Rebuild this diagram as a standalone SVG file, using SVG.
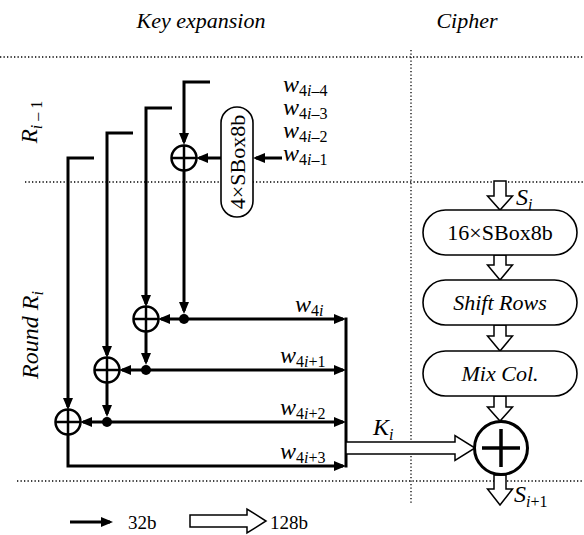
<svg xmlns="http://www.w3.org/2000/svg" width="584" height="535" viewBox="0 0 584 535">
<defs>
<marker id="ah" markerUnits="userSpaceOnUse" markerWidth="12" markerHeight="10" refX="9" refY="5" orient="auto"><path d="M0,0 L12,5 L0,10 z" fill="#000"/></marker>
</defs>
<style>
.ln{fill:none;stroke:#000;stroke-width:3}
.ar{marker-end:url(#ah)}
.dl{fill:none;stroke:#000;stroke-width:1.3;stroke-dasharray:1.3 2.2}
.xor circle{fill:#fff;stroke:#000;stroke-width:2.5}
.xor path{fill:none;stroke:#000;stroke-width:2.5}
.dot{fill:#000}
.box{fill:#fff;stroke:#000;stroke-width:1.6}
.hol{fill:#fff;stroke:#000;stroke-width:1.5}
text{font-family:"Liberation Serif","Times New Roman",serif;fill:#000}
.it{font-style:italic}
.w{font-style:italic;font-size:24px}
.s{font-size:16px;font-style:normal}
.si{font-size:16px;font-style:italic}
.bt{font-size:22px}
</style>

<g id="titles">
<text x="201" y="28" text-anchor="middle" class="it" font-size="22">Key expansion</text>
<text x="467" y="28" text-anchor="middle" class="it" font-size="22">Cipher</text>
<text transform="translate(37,122) rotate(-90)" text-anchor="middle" class="it" font-size="23">R<tspan class="si" dy="5">i</tspan><tspan class="s"> – 1</tspan></text>
<text transform="translate(38,335) rotate(-90)" text-anchor="middle" class="it" font-size="24">Round R<tspan class="si" dy="5">i</tspan></text>
</g>

<g id="grid">
<path class="dl" d="M0,57 H584"/>
<path class="dl" d="M25,182 H584"/>
<path class="dl" d="M17,481 H584"/>
<path class="dl" d="M411,50 V505"/>
</g>

<g id="connectors">
<path class="ln ar" d="M210,82 H184 V142"/>
<path class="ln ar" d="M184,170 V311"/>
<path class="ln ar" d="M172,108 H146 V304"/>
<path class="ln ar" d="M133,133 H107 V355"/>
<path class="ln ar" d="M94,158 H68 V407"/>
<path class="ln ar" d="M282,158 H256"/>
<path class="ln ar" d="M221,158 H199"/>
<path class="ln ar" d="M184,319 H343"/>
<path class="ln ar" d="M184,319 H161"/>
<path class="ln ar" d="M146,331 V362"/>
<path class="ln ar" d="M146,370 H343"/>
<path class="ln ar" d="M146,370 H122"/>
<path class="ln ar" d="M107,382 V414"/>
<path class="ln ar" d="M107,422 H343"/>
<path class="ln ar" d="M107,422 H83"/>
<path class="ln ar" d="M68,434 V466 H343"/>
<path class="ln" stroke-width="3.5" d="M346,317.5 V467.5"/>
<polygon class="hol" points="346,442 455,442 455,435.5 475,448 455,460.5 455,454 346,454"/>
<polygon class="hol" points="494,181 506,181 506,196 512.5,196 500,210 487.5,196 494,196"/>
<polygon class="hol" points="494,255 506,255 506,265 512.5,265 500,280 487.5,265 494,265"/>
<polygon class="hol" points="494,325 506,325 506,336 512.5,336 500,351 487.5,336 494,336"/>
<polygon class="hol" points="494,396 506,396 506,407 512.5,407 500,421 487.5,407 494,407"/>
<polygon class="hol" points="494,475 506,475 506,489 512.5,489 500,505 487.5,489 494,489"/>
</g>

<g id="sbox4">
<rect class="box" x="221" y="107" width="32" height="110" rx="16"/>
<text transform="translate(244.5,162) rotate(-90)" text-anchor="middle" font-size="22">4×SBox8b</text>
</g>

<g id="xor0" class="xor"><circle cx="184" cy="158" r="12.5"/><path d="M172,158 H196 M184,146 V170"/></g>
<g id="xor1" class="xor"><circle cx="146" cy="319" r="12.5"/><path d="M134,319 H158 M146,307 V331"/></g>
<g id="xor2" class="xor"><circle cx="107" cy="370" r="12.5"/><path d="M95,370 H119 M107,358 V382"/></g>
<g id="xor3" class="xor"><circle cx="68" cy="422" r="12.5"/><path d="M56,422 H80 M68,410 V434"/></g>

<g id="dots">
<circle class="dot" cx="184" cy="319" r="5"/>
<circle class="dot" cx="146" cy="370" r="5"/>
<circle class="dot" cx="107" cy="422" r="5"/>
</g>

<g id="wlabels">
<text x="283" y="92" class="w">w<tspan class="s" dy="4">4</tspan><tspan class="si">i</tspan><tspan class="s">–4</tspan></text>
<text x="283" y="115" class="w">w<tspan class="s" dy="4">4</tspan><tspan class="si">i</tspan><tspan class="s">–3</tspan></text>
<text x="283" y="138" class="w">w<tspan class="s" dy="4">4</tspan><tspan class="si">i</tspan><tspan class="s">–2</tspan></text>
<text x="283" y="161" class="w">w<tspan class="s" dy="4">4</tspan><tspan class="si">i</tspan><tspan class="s">–1</tspan></text>
<text x="295" y="312" class="w">w<tspan class="s" dy="4">4</tspan><tspan class="si">i</tspan></text>
<text x="280" y="363" class="w">w<tspan class="s" dy="4">4</tspan><tspan class="si">i</tspan><tspan class="s">+1</tspan></text>
<text x="280" y="415" class="w">w<tspan class="s" dy="4">4</tspan><tspan class="si">i</tspan><tspan class="s">+2</tspan></text>
<text x="280" y="459" class="w">w<tspan class="s" dy="4">4</tspan><tspan class="si">i</tspan><tspan class="s">+3</tspan></text>
</g>

<g id="sbox16">
<rect class="box" x="423" y="210" width="154" height="45" rx="22.5"/>
<text x="500" y="240" text-anchor="middle" class="bt">16×SBox8b</text>
</g>
<g id="shiftrows">
<rect class="box" x="423" y="280" width="154" height="45" rx="22.5"/>
<text x="500" y="310" text-anchor="middle" class="bt it">Shift Rows</text>
</g>
<g id="mixcol">
<rect class="box" x="423" y="351" width="154" height="45" rx="22.5"/>
<text x="500" y="381" text-anchor="middle" class="bt it">Mix Col.</text>
</g>
<g id="xorbig">
<circle cx="501" cy="448" r="26.5" fill="#fff" stroke="#000" stroke-width="3"/>
<path d="M482,448 H520 M501,429 V467" stroke="#000" stroke-width="3.5"/>
</g>

<g id="cipherlabels">
<text x="516" y="205" class="it" font-size="24">S<tspan class="si" dy="5">i</tspan></text>
<text x="514" y="502" class="it" font-size="24">S<tspan class="si" dy="5">i</tspan><tspan class="s">+1</tspan></text>
<text x="373" y="435" class="it" font-size="24">K<tspan class="si" dy="5">i</tspan></text>
</g>

<g id="legend">
<path class="ln ar" d="M70,522 H110"/>
<text x="128" y="529" font-size="19">32b</text>
<polygon class="hol" points="190,515 247,515 247,509 266,521 247,533 247,527 190,527"/>
<text x="270" y="529" font-size="19">128b</text>
</g>
</svg>
